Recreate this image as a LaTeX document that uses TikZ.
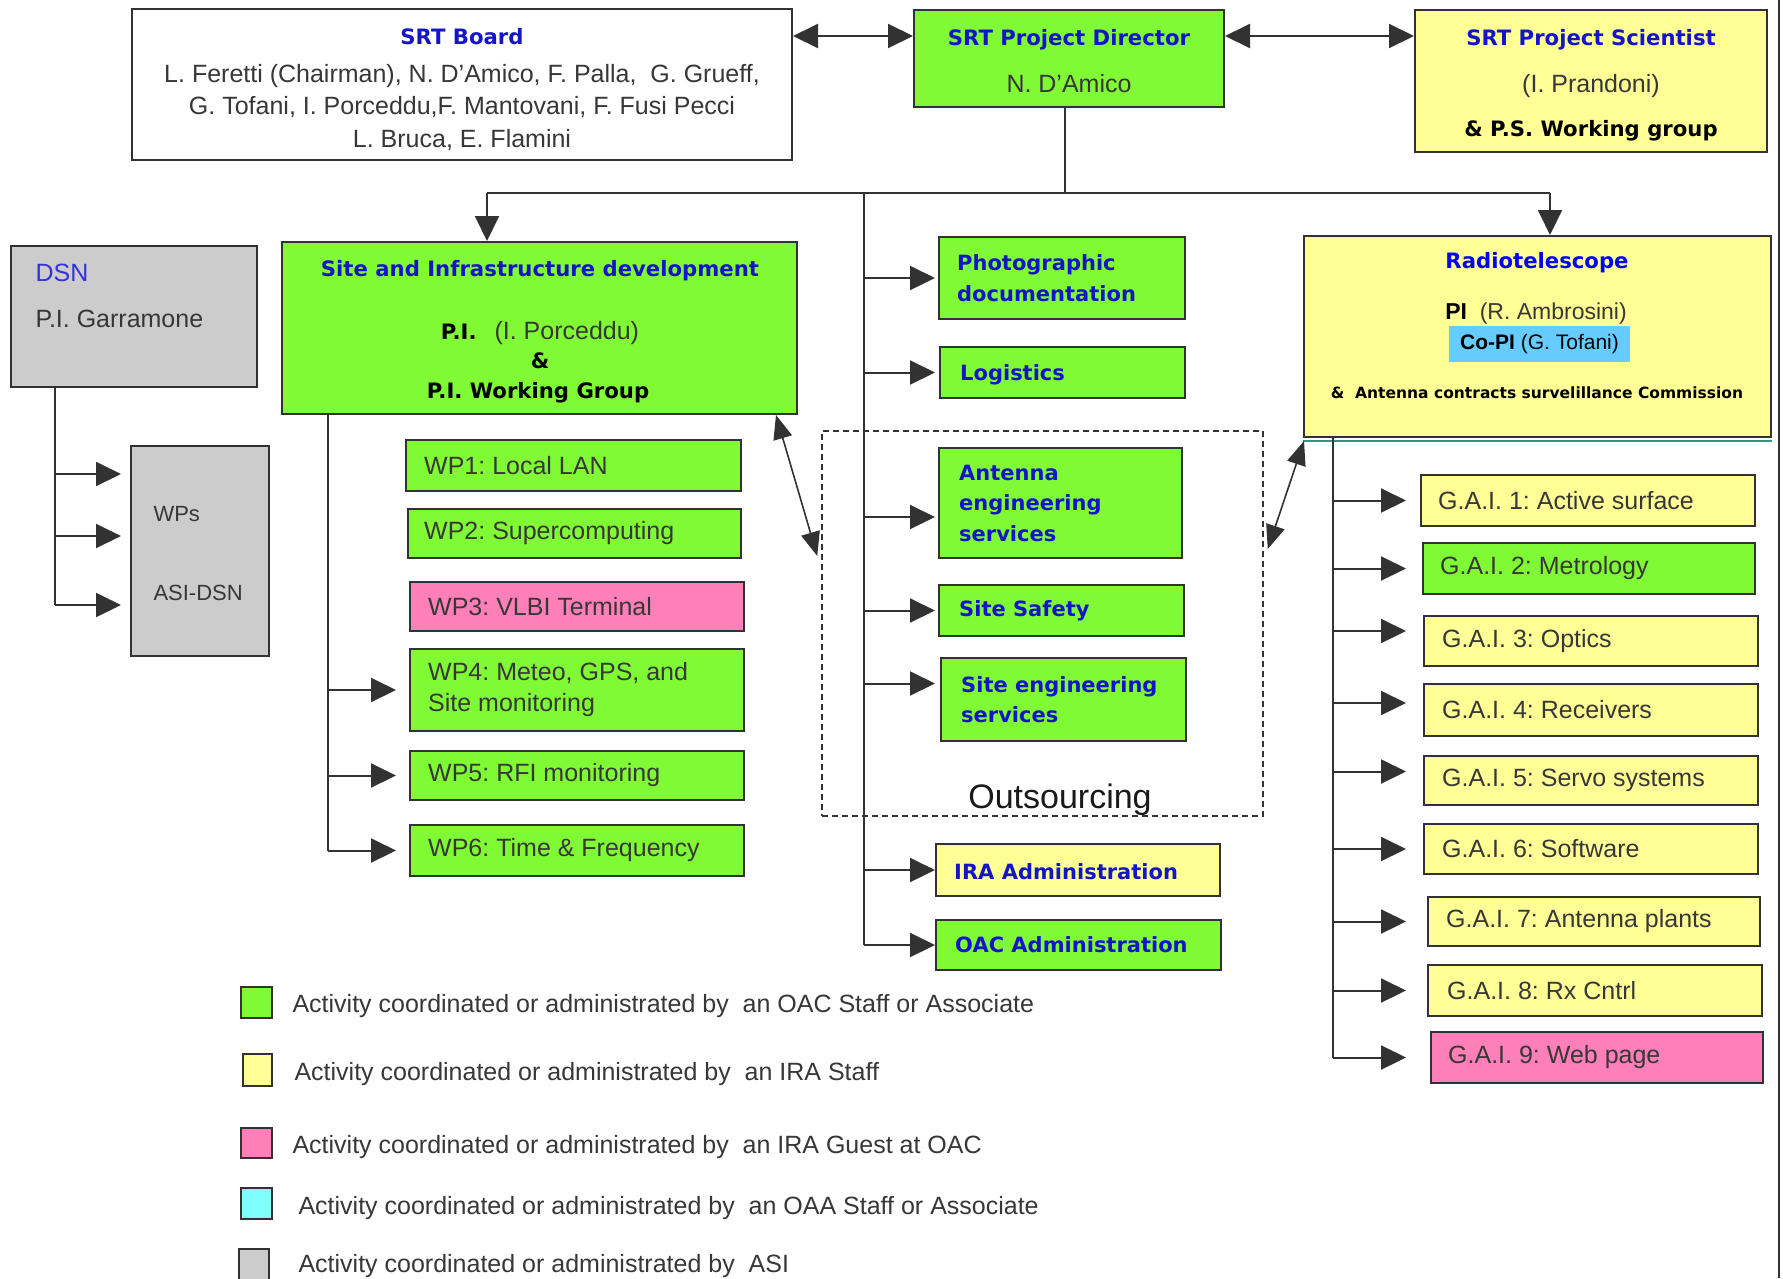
\documentclass[tikz,border=0pt]{standalone}
\usepackage{fontspec}
\setmainfont{Liberation Sans}
\newfontfamily\vfont{DejaVu Sans}
\usetikzlibrary{arrows.meta}
\frenchspacing
\definecolor{gfill}{RGB}{128,250,52}
\definecolor{yfill}{RGB}{255,255,150}
\definecolor{pfill}{RGB}{255,128,184}
\definecolor{cfill}{RGB}{128,255,255}
\definecolor{grfill}{RGB}{204,204,204}
\definecolor{copi}{RGB}{102,204,255}
\definecolor{edge}{RGB}{50,50,50}
\definecolor{ink}{RGB}{55,55,55}
\definecolor{tblue}{RGB}{20,20,200}
\definecolor{rblue}{RGB}{0,0,255}
\definecolor{dblue}{RGB}{50,50,220}
\definecolor{tealln}{RGB}{50,150,130}
\newcommand\pbox[9]{%
  \pgfmathsetmacro\bw{#5-#4}\pgfmathsetmacro\bh{#7-#6}%
  \pgfmathsetmacro\bcx{(#4+#5)/2}\pgfmathsetmacro\bcy{-(#6+#7)/2}%
  \pgfmathsetmacro\btx{#4+#8}%
  \node[bx,#1,minimum width=\bw pt,minimum height=\bh pt] (#3) at (\bcx,\bcy) {};%
  \node[anchor=west,align=left,inner sep=0pt,#2] (#3-t) at (\btx,\bcy) {#9};}
\begin{document}
\begin{tikzpicture}[x=1pt,y=1pt,
  every node/.style={font=\fontsize{25}{31}\selectfont, text=ink},
  bx/.style={draw=edge, line width=2pt, rectangle, inner sep=0pt},
  ttl/.style={font=\vfont\bfseries\fontsize{21.2}{26}\selectfont, text=tblue},
  bb/.style={font=\vfont\bfseries\fontsize{21}{30.5}\selectfont, text=tblue},
  bk/.style={font=\vfont\bfseries\fontsize{21.2}{26}\selectfont, text=black},
  ln/.style={draw=edge, line width=2pt},
  arr/.style={ln, -{Triangle[length=25pt,width=24pt]}},
  darr/.style={ln, {Triangle[length=25pt,width=24pt]}-{Triangle[length=25pt,width=24pt]}},
  tdarr/.style={draw=edge, line width=1.6pt, {Triangle[length=24pt,width=19pt]}-{Triangle[length=24pt,width=19pt]}},
  lgsq/.style={bx, line width=1.6pt},
]
\fill[white] (0,0) rectangle (1783,-1278);
\useasboundingbox (0,0) rectangle (1783,-1278);
\draw[edge, line width=2pt] (1779,0) -- (1779,-1278);

% ---- boxes
\pbox{fill=white}{}{board}{132}{792}{9}{160}{0}{}
\pbox{fill=gfill}{}{director}{914}{1224}{10}{107}{0}{}
\pbox{fill=yfill}{}{scientist}{1415}{1767}{10}{152}{0}{}
\pbox{fill=grfill}{}{dsn}{11}{257}{246}{387}{0}{}
\pbox{fill=gfill}{}{site}{282}{797}{242}{414}{0}{}
\pbox{fill=grfill}{}{wps}{131}{269}{446}{656}{0}{}
\pbox{fill=gfill}{}{wp1}{406}{741}{440}{491}{18}{WP1: Local LAN}
\pbox{fill=gfill}{}{wp2}{408}{741}{509}{558}{16}{WP2: Supercomputing}
\pbox{fill=pfill}{}{wp3}{410}{744}{582}{631}{18}{WP3: VLBI Terminal}
\pbox{fill=gfill}{}{wp4}{410}{744}{649}{731}{18}{WP4: Meteo, GPS, and\\Site monitoring}
\pbox{fill=gfill}{}{wp5}{410}{744}{751}{800}{18}{WP5: RFI monitoring}
\pbox{fill=gfill}{}{wp6}{410}{744}{825}{876}{18}{WP6: Time \& Frequency}
\pbox{fill=gfill}{bb}{photo}{939}{1185}{237}{319}{18}{Photographic\\documentation}
\pbox{fill=gfill}{bb,yshift=-2pt}{logi}{940}{1185}{347}{398}{20}{Logistics}
\pbox{dash pattern=on 6pt off 4pt, line width=1.5pt}{}{out}{822}{1263}{431}{816}{0}{}
\pbox{fill=gfill}{bb}{ant}{939}{1182}{448}{558}{20}{Antenna\\engineering\\services}
\pbox{fill=gfill}{bb}{safety}{939}{1184}{585}{636}{20}{Site Safety}
\pbox{fill=gfill}{bb}{seng}{941}{1186}{658}{741}{20}{Site engineering\\services}
\pbox{fill=yfill}{bb,yshift=-2pt}{ira}{936}{1220}{844}{896}{18}{IRA Administration}
\pbox{fill=gfill}{bb}{oac}{936}{1221}{920}{970}{19}{OAC Administration}
\pbox{fill=yfill}{}{radio}{1304}{1771}{236}{437}{0}{}
\draw[tealln, line width=2pt] ([yshift=-3pt]radio.south west) -- ([yshift=-3pt]radio.south east);
\pbox{fill=yfill}{}{g1}{1421}{1755}{475}{526}{17}{G.A.I. 1: Active surface}
\pbox{fill=gfill}{}{g2}{1423}{1755}{543}{594}{17}{G.A.I. 2: Metrology}
\pbox{fill=yfill}{}{g3}{1424}{1758}{616}{666}{18}{G.A.I. 3: Optics}
\pbox{fill=yfill}{}{g4}{1424}{1758}{684}{736}{18}{G.A.I. 4: Receivers}
\pbox{fill=yfill}{}{g5}{1424}{1758}{756}{805}{18}{G.A.I. 5: Servo systems}
\pbox{fill=yfill}{}{g6}{1424}{1758}{824}{874}{18}{G.A.I. 6: Software}
\pbox{fill=yfill}{}{g7}{1428}{1760}{897}{946}{18}{G.A.I. 7: Antenna plants}
\pbox{fill=yfill}{}{g8}{1428}{1762}{965}{1016}{19}{G.A.I. 8: Rx Cntrl}
\pbox{fill=pfill}{}{g9}{1431}{1763}{1032}{1083}{17}{G.A.I. 9: Web page}

% ---- texts in large boxes
\node[ttl, anchor=base] (boardT) at (462,-44) {SRT Board};
\node[anchor=base] (boardL1) at (462,-82) {L. Feretti (Chairman), N. D'Amico, F. Palla,\ \ G. Grueff,};
\node[anchor=base] (boardL2) at (462,-114) {G. Tofani, I. Porceddu,F. Mantovani, F. Fusi Pecci};
\node[anchor=base] (boardL3) at (462,-147) {L. Bruca, E. Flamini};
\node[ttl, anchor=base] (dirT) at (1069,-45) {SRT Project Director};
\node[anchor=base] (dirN) at (1069,-92) {N. D'Amico};
\node[ttl, anchor=base] (sciT) at (1591,-45) {SRT Project Scientist};
\node[anchor=base] (sciN) at (1591,-92) {(I. Prandoni)};
\node[bk, anchor=base] (sciW) at (1591,-136) {\& P.S. Working group};
\node[anchor=base west, text=dblue] (dsnT) at (32,-281) {DSN};
\node[anchor=base west] (dsnN) at (32,-327) {P.I. Garramone};
\node[ttl, anchor=base] (siteT) at (540,-276) {Site and Infrastructure development};
\node[anchor=base] (siteP) at (540,-339) {{\vfont\bfseries\fontsize{21.2}{26}\selectfont\color{black}P.I.}\hspace{18pt}(I. Porceddu)};
\node[bk, anchor=base] (siteA) at (540,-368) {\&};
\node[bk, anchor=base] (siteW) at (538,-398) {P.I. Working Group};
\node[anchor=base west, font=\fontsize{22}{26}\selectfont] (wpsA) at (150,-521) {WPs};
\node[anchor=base west, font=\fontsize{22}{26}\selectfont] (wpsB) at (150,-600) {ASI-DSN};
\node[ttl, text=rblue, anchor=base] (radT) at (1537,-268) {Radiotelescope};
\node[anchor=base, font=\fontsize{23}{27}\selectfont] (radP) at (1536,-319) {{\color{black}\textbf{PI}}\ \ (R. Ambrosini)};
\node[fill=copi, minimum width=181pt, minimum height=36pt, inner sep=0pt, font=\fontsize{21}{25}\selectfont, text=black] (copiN) at (1539.5,-344) {\textbf{Co-PI} (G. Tofani)};
\node[bk, anchor=base, font=\vfont\bfseries\fontsize{15.5}{19}\selectfont] (radC) at (1537,-398) {\&\ \ Antenna contracts survelillance Commission};
\node[anchor=base, font=\fontsize{34}{40}\selectfont, text=black!90] (outT) at (1060,-808) {Outsourcing};

% ---- connectors
\draw[darr] ([yshift=-28pt]board.north east) -- ([yshift=-27pt]director.north west);
\draw[darr] ([yshift=-27pt]director.north east) -- ([yshift=-27pt]scientist.north west);
\coordinate (hl) at (487,-193);
\coordinate (hr) at (1550,-193);
\coordinate (tk) at (864,-193);
\coordinate (dsouth) at ([xshift=-4pt]director.south);
\draw[ln] (dsouth) -- (dsouth |- hl);
\draw[ln] (hl) -- (hr);
\draw[arr] (hl) -- (hl |- site.north);
\draw[arr] (hr) -- (hr |- radio.north);
% central trunk
\coordinate (otip) at (935,0);
\coordinate (antA) at ([yshift=-14pt]ant.west);
\coordinate (sengA) at ([yshift=16pt]seng.west);
\draw[ln] (tk) -- (tk |- oac.west);
\foreach \b in {photo,logi,safety,ira,oac}{
  \draw[arr] (tk |- \b.west) -- (otip |- \b.west);
}
\draw[arr] (tk |- antA) -- (otip |- antA);
\draw[arr] (tk |- sengA) -- (otip |- sengA);
% site trunk
\coordinate (st) at (328,-414);
\coordinate (wptip) at (396,0);
\draw[ln] (st) -- (st |- wp6.west);
\foreach \b in {wp4,wp5,wp6}{
  \draw[arr] (st |- \b.west) -- (wptip |- \b.west);
}
% dsn trunk
\coordinate (dt) at (55,-387);
\coordinate (dtip) at (121,0);
\coordinate (w1) at ([yshift=77pt]wps.west);
\coordinate (w2) at ([yshift=15pt]wps.west);
\coordinate (w3) at ([yshift=-54pt]wps.west);
\draw[ln] (dt) -- (dt |- w3);
\foreach \b in {w1,w2,w3}{
  \draw[arr] (dt |- \b) -- (dtip |- \b);
}
% radio trunk
\coordinate (rt) at (1333,-437);
\coordinate (gtip) at (1406,0);
\coordinate (g3A) at ([yshift=10pt]g3.west);
\coordinate (g4A) at ([yshift=7pt]g4.west);
\coordinate (g5A) at ([yshift=9pt]g5.west);
\draw[ln] (rt) -- (rt |- g9.west);
\foreach \b in {g1.west,g2.west,g3A,g4A,g5A,g6.west,g7.west,g8.west,g9.west}{
  \draw[arr] (rt |- \b) -- (gtip |- \b);
}
% double arrows to outsourcing
\coordinate (sA) at ([xshift=-22pt]site.south east);
\coordinate (oL) at ([xshift=-4pt,yshift=67.5pt]out.west);
\draw[tdarr] (sA) -- (oL);
\coordinate (rA) at ([xshift=1pt,yshift=-3pt]radio.south west);
\coordinate (oR) at ([xshift=4pt,yshift=74.5pt]out.east);
\draw[tdarr] (rA) -- (oR);

% ---- legend
\node[lgsq, fill=gfill, minimum width=31pt, minimum height=31pt] (lg1) at (256.5,-1002.5) {};
\node[lgsq, fill=yfill, minimum width=29pt, minimum height=32pt] (lg2) at (257.5,-1070) {};
\node[lgsq, fill=pfill, minimum width=31pt, minimum height=30pt] (lg3) at (256.5,-1143) {};
\node[lgsq, fill=cfill, minimum width=31pt, minimum height=31pt] (lg4) at (256.5,-1203.5) {};
\node[lgsq, fill=grfill, minimum width=30pt, minimum height=41pt] (lg5) at (254,-1269.5) {};
\node[anchor=base west] (lt1) at (289,-1012) {Activity coordinated or administrated by\ \ an OAC Staff or Associate};
\node[anchor=base west] (lt2) at (291,-1080) {Activity coordinated or administrated by\ \ an IRA Staff};
\node[anchor=base west] (lt3) at (289,-1153) {Activity coordinated or administrated by\ \ an IRA Guest at OAC};
\node[anchor=base west] (lt4) at (295,-1214) {Activity coordinated or administrated by\ \ an OAA Staff or Associate};
\node[anchor=base west] (lt5) at (295,-1272) {Activity coordinated or administrated by\ \ ASI};
\end{tikzpicture}
\end{document}
